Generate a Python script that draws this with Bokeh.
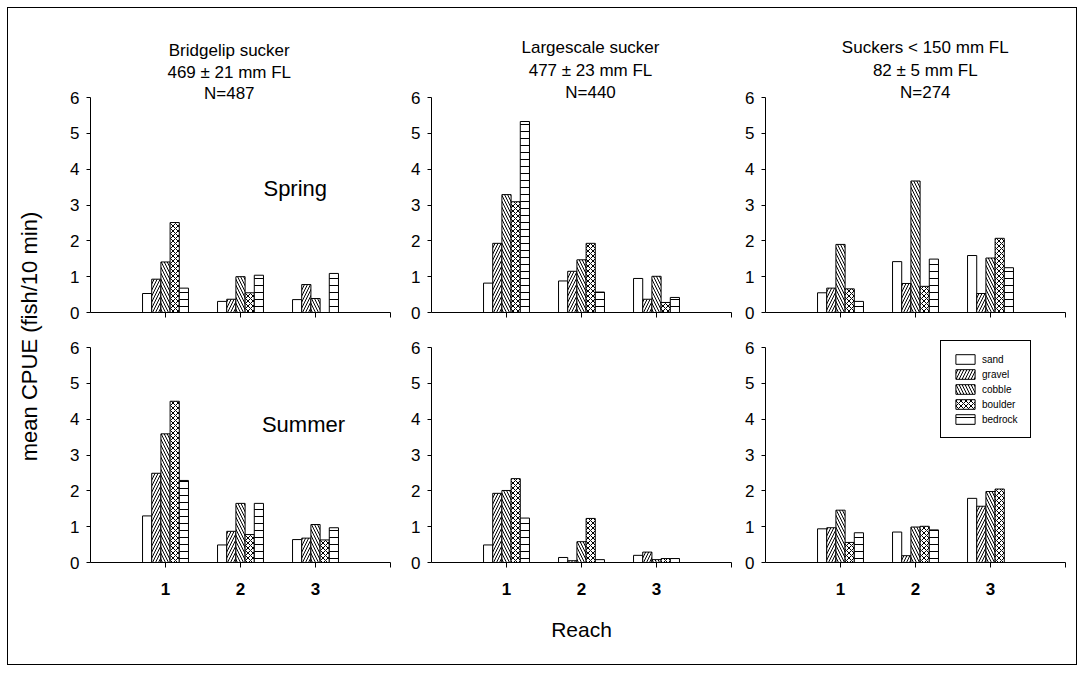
import math
from bokeh.plotting import figure
from bokeh.models import ColumnDataSource, Label, FixedTicker, Range1d
from bokeh.layouts import row, column
from bokeh.transform import dodge
from bokeh.embed import file_html
from bokeh.resources import INLINE

FONT = "Liberation Sans"

# ---------------- data ----------------
reaches = [1, 2, 3]
reach_labels = ["1", "2", "3"]
substrates = ["sand", "gravel", "cobble", "boulder", "bedrock"]
y_ticks = [0, 1, 2, 3, 4, 5, 6]

group_titles = [
    ["Bridgelip sucker", "469 \u00b1 21 mm FL", "N=487"],
    ["Largescale sucker", "477 \u00b1 23 mm FL", "N=440"],
    ["Suckers < 150 mm FL", "82 \u00b1 5 mm FL", "N=274"],
]
seasons = ["Spring", "Summer"]

bridgelip_spring = {
    "sand":    [0.53, 0.31, 0.36],
    "gravel":  [0.93, 0.37, 0.78],
    "cobble":  [1.41, 1.00, 0.39],
    "boulder": [2.51, 0.55, 0.00],
    "bedrock": [0.68, 1.04, 1.09],
}
largescale_spring = {
    "sand":    [0.82, 0.88, 0.95],
    "gravel":  [1.93, 1.15, 0.37],
    "cobble":  [3.29, 1.47, 1.01],
    "boulder": [3.09, 1.93, 0.28],
    "bedrock": [5.33, 0.57, 0.42],
}
small_spring = {
    "sand":    [0.55, 1.42, 1.59],
    "gravel":  [0.68, 0.81, 0.53],
    "cobble":  [1.90, 3.67, 1.52],
    "boulder": [0.66, 0.73, 2.07],
    "bedrock": [0.31, 1.49, 1.25],
}
bridgelip_summer = {
    "sand":    [1.30, 0.49, 0.64],
    "gravel":  [2.49, 0.87, 0.68],
    "cobble":  [3.59, 1.65, 1.06],
    "boulder": [4.50, 0.78, 0.63],
    "bedrock": [2.29, 1.65, 0.97],
}
largescale_summer = {
    "sand":    [0.49, 0.14, 0.20],
    "gravel":  [1.93, 0.05, 0.29],
    "cobble":  [2.01, 0.58, 0.08],
    "boulder": [2.34, 1.23, 0.11],
    "bedrock": [1.24, 0.08, 0.11],
}
small_summer = {
    "sand":    [0.94, 0.85, 1.79],
    "gravel":  [0.97, 0.19, 1.57],
    "cobble":  [1.46, 0.99, 1.98],
    "boulder": [0.56, 1.01, 2.05],
    "bedrock": [0.83, 0.91, 0.00],
}

# ---------------- styles ----------------
BAR_W = 0.1225
HATCH = {
    "sand":    dict(hatch_pattern=None),
    "gravel":  dict(hatch_pattern="/", hatch_scale=6),
    "cobble":  dict(hatch_pattern="\\", hatch_scale=6),
    "boulder": dict(hatch_pattern="x", hatch_scale=5),
    "bedrock": dict(hatch_pattern="-", hatch_scale=7),
}

AX_PX = 215.0 / 6.0   # pixels per y unit

def make_panel(data, width, bl, br, bt, frame_h, bb, bottom_row, legend=False):
    y_end = frame_h / AX_PX
    p = figure(width=width, height=bt + frame_h + bb,
               x_range=Range1d(0, 4), y_range=Range1d(0, y_end),
               output_backend="svg", toolbar_location=None,
               min_border_left=bl, min_border_right=br,
               min_border_top=bt, min_border_bottom=bb)
    p.outline_line_color = None
    p.grid.visible = False
    p.background_fill_color = "white"
    p.border_fill_color = "white"

    src = ColumnDataSource(dict(reach=reaches, **data))
    for i, s in enumerate(substrates):
        kw = dict(HATCH[s])
        if legend:
            kw["legend_label"] = s
        p.vbar(x=dodge("reach", (i - 2) * BAR_W, range=p.x_range), top=s,
               width=BAR_W, source=src, fill_color="white",
               line_color="black", line_width=1,
               hatch_color="black", hatch_weight=1, **kw)

    ya = p.yaxis[0]
    ya.bounds = (0, 6)
    ya.ticker = FixedTicker(ticks=y_ticks)
    ya.major_tick_out = 4
    ya.major_tick_in = 0
    ya.minor_tick_out = 0
    ya.minor_tick_in = 0
    ya.major_label_standoff = 7
    ya.major_label_text_font = FONT
    ya.major_label_text_font_size = "17px"
    ya.major_label_text_color = "black"
    ya.axis_line_color = "black"
    ya.major_tick_line_color = "black"

    xa = p.xaxis[0]
    xa.ticker = FixedTicker(ticks=[1, 2, 3, 4])
    xa.major_tick_out = 5
    xa.major_tick_in = 0
    xa.minor_tick_out = 0
    xa.minor_tick_in = 0
    xa.axis_line_color = "black"
    xa.major_tick_line_color = "black"
    if bottom_row:
        ov = {r: lab for r, lab in zip(reaches, reach_labels)}
        ov[4] = ""
        xa.major_label_overrides = ov
        xa.major_label_text_font = FONT
        xa.major_label_text_font_style = "bold"
        xa.major_label_text_font_size = "17px"
        xa.major_label_text_color = "black"
        xa.major_label_standoff = 15
    else:
        xa.major_label_overrides = {1: "", 2: "", 3: "", 4: ""}
        xa.major_label_text_font_size = "1px"
        xa.major_label_standoff = 0
    return p


# content starts at page (8, 8)
TOP_BT, TOP_FH, TOP_BB = 17, 287, 18      # frame 25..312, y=6 at 97
BOT_BT, BOT_FH, BOT_BB = 8, 224, 102      # frame 338..562, y=6 at 348
cols = [(350, 40, 10), (341, 31, 10), (335, 24, 11)]
top_data = [bridgelip_spring, largescale_spring, small_spring]
bot_data = [bridgelip_summer, largescale_summer, small_summer]

top_panels = []
bot_panels = []
for k in range(3):
    w, bl, br = cols[k]
    top_panels.append(make_panel(top_data[k], w, bl, br, TOP_BT, TOP_FH, TOP_BB, False))
    bot_panels.append(make_panel(bot_data[k], w, bl, br, BOT_BT, BOT_FH, BOT_BB, True,
                                 legend=(k == 2)))

# titles over the top row (inside the extended frame)
title_x = [1.85, 2.12, 2.13]
title_y = [[7.31, 6.70, 6.11], [7.40, 6.75, 6.14], [7.40, 6.75, 6.14]]
for k in range(3):
    for j, txt in enumerate(group_titles[k]):
        top_panels[k].add_layout(Label(x=title_x[k], y=title_y[k][j], text=txt,
                                       text_align="center", text_baseline="middle",
                                       text_font=FONT, text_font_size="17px",
                                       text_color="black"))

top_panels[0].add_layout(Label(x=2.73, y=3.46, text=seasons[0], text_align="center",
                               text_baseline="middle", text_font=FONT,
                               text_font_size="22px", text_color="black"))
bot_panels[0].add_layout(Label(x=2.84, y=3.84, text=seasons[1], text_align="center",
                               text_baseline="middle", text_font=FONT,
                               text_font_size="22px", text_color="black"))

# x-axis title
xa5 = bot_panels[1].xaxis[0]
xa5.axis_label = "Reach"
xa5.axis_label_text_font = FONT
xa5.axis_label_text_font_size = "21px"
xa5.axis_label_text_font_style = "normal"
xa5.axis_label_text_color = "black"
xa5.axis_label_standoff = 20

# legend
p6 = bot_panels[2]
lg = p6.legend[0]
lg.location = (175, 124)
lg.border_line_color = "black"
lg.border_line_alpha = 1
lg.border_line_width = 1
lg.background_fill_color = "white"
lg.background_fill_alpha = 1
lg.label_text_font = FONT
lg.label_text_font_size = "10px"
lg.label_text_color = "black"
lg.glyph_width = 24
lg.glyph_height = 12
lg.label_height = 12
lg.spacing = 3
lg.padding = 12
lg.margin = 0
lg.label_standoff = 5

# y-axis title figure
TOTAL_H = TOP_BT + TOP_FH + TOP_BB + BOT_BT + BOT_FH + BOT_BB
ylab = figure(width=42, height=TOTAL_H, x_range=Range1d(0, 1), y_range=Range1d(0, 1),
              output_backend="svg", toolbar_location=None,
              x_axis_type=None, y_axis_type=None,
              min_border_left=0, min_border_right=0, min_border_top=0, min_border_bottom=0)
ylab.outline_line_color = None
ylab.grid.visible = False
ylab.add_layout(Label(x=0.5, y=0.5, text="mean CPUE (fish/10 min)", angle=math.pi / 2,
                      text_align="center", text_baseline="middle", text_font=FONT,
                      text_font_size="22px", text_color="black"))

layout = row(ylab, column(row(*top_panels), row(*bot_panels)))
layout.margin = (7, 0, 0, 7)
layout.styles = {"border": "1px solid black"}

open("out.html", "w").write(file_html(layout, INLINE))
